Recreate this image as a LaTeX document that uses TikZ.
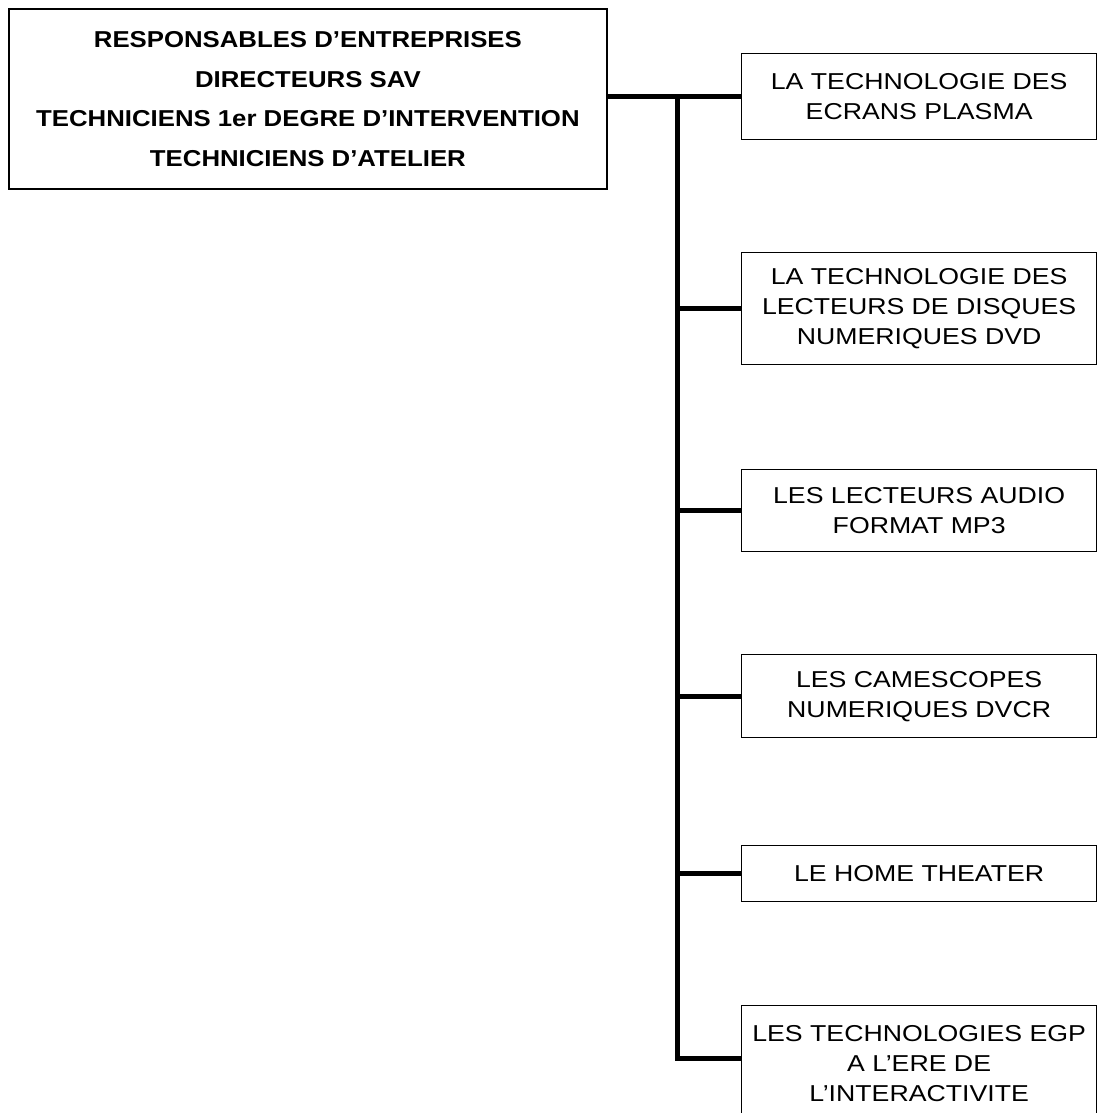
\documentclass[tikz,border=0pt]{standalone}
\usepackage{fontspec}
\setmainfont{Liberation Sans}
\newfontfamily\topfont[FakeStretch=1.12]{Liberation Sans}
\newfontfamily\itemfont[FakeStretch=1.16]{Liberation Sans}
\begin{document}
\begin{tikzpicture}[x=1pt,y=-1pt,
  topbox/.style={draw,line width=1.8pt,anchor=north west,minimum width=598pt,minimum height=180pt,inner sep=0pt,align=center,
    font=\topfont\fontsize{23}{39.5}\selectfont\bfseries},
  itembox/.style={draw,line width=1.3pt,anchor=north west,minimum width=355pt,inner sep=0pt,align=center,
    font=\itemfont\fontsize{23}{30}\selectfont},
  link/.style={line width=5pt}]
\useasboundingbox (0,0) rectangle (1097,1113);
\clip (0,0) rectangle (1097,1113);
\node[topbox] (top) at (8,8) {RESPONSABLES D’ENTREPRISES\\DIRECTEURS SAV\\TECHNICIENS 1er DEGRE D’INTERVENTION\\TECHNICIENS D’ATELIER};
\node[itembox,minimum height=86pt] (b1) at (741,53) {LA TECHNOLOGIE DES\\ECRANS PLASMA};
\node[itembox,minimum height=112pt] (b2) at (741,252) {LA TECHNOLOGIE DES\\LECTEURS DE DISQUES\\NUMERIQUES DVD};
\node[itembox,minimum height=82pt] (b3) at (741,469) {LES LECTEURS AUDIO\\FORMAT MP3};
\node[itembox,minimum height=83pt] (b4) at (741,654) {LES CAMESCOPES\\NUMERIQUES DVCR};
\node[itembox,minimum height=56pt] (b5) at (741,845) {LE HOME THEATER};
\node[itembox,minimum height=116pt] (b6) at (741,1005) {LES TECHNOLOGIES EGP\\A L’ERE DE\\L’INTERACTIVITE};
\coordinate (j) at (677,97);
\coordinate (e6) at ([yshift=5pt]b6.west);
\draw[link] (top.east |- b1.west) -- (b1.west);
\draw[link] (j |- b1.west) -- (j |- e6) -- (e6);
\foreach \b in {b2,b3,b4,b5}
  \draw[link] (j |- \b.west) -- (\b.west);
\end{tikzpicture}
\end{document}
